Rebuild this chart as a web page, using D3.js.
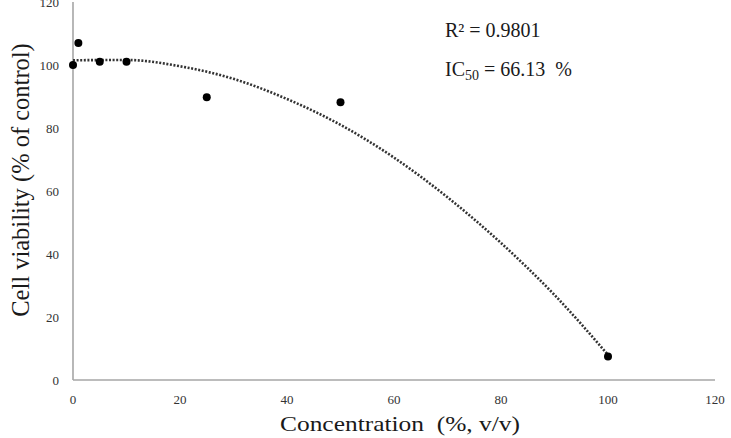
<!DOCTYPE html>
<html>
<head>
<meta charset="utf-8">
<script src="https://cdn.jsdelivr.net/npm/d3@7"></script>
<style>
  body { margin: 0; background: #fff; }
  text { font-family: "Liberation Serif", "Times New Roman", serif; white-space: pre; }
</style>
</head>
<body>
<div id="chart"></div>
<script>
// Measured points
const conc = [0, 1, 5, 10, 25, 50, 100]
const viability = [100, 107, 101, 101, 89.8, 88.2, 7.5]

// Polynomial trendline
const trendX = [0, 10, 20, 30, 40, 50, 60, 70, 80, 90, 100]
const trendY = [101.5, 101.6, 99.6, 95.6, 89.2, 81, 70.6, 58, 43.5, 27, 8]

const xTicks = [0, 20, 40, 60, 80, 100, 120]
const yTicks = [0, 20, 40, 60, 80, 100, 120]

const w = 731, h = 438

const svg = d3.select("#chart").append("svg")
    .attr("width", w)
    .attr("height", h)

const x = d3.scaleLinear().domain([0, 120]).range([73, 715])
const y = d3.scaleLinear().domain([0, 120]).range([380, 2])

const axisCol = "#a6a6a6"

// Axes lines
svg.append("line")
    .attr("x1", x(0)).attr("x2", x(0))
    .attr("y1", y(120)).attr("y2", y(0))
    .style("stroke", axisCol).style("stroke-width", 1.6)
svg.append("line")
    .attr("x1", x(0)).attr("x2", x(120))
    .attr("y1", y(0)).attr("y2", y(0))
    .style("stroke", axisCol).style("stroke-width", 1.6)

// Tick labels
svg.selectAll(".ytick")
    .data(yTicks)
    .enter()
    .append("text")
    .attr("class", "ytick")
    .attr("x", 59)
    .attr("y", d => y(d) + 4.5)
    .attr("text-anchor", "end")
    .style("font-size", "13px")
    .style("fill", "#333")
    .text(d => d)

svg.selectAll(".xtick")
    .data(xTicks)
    .enter()
    .append("text")
    .attr("class", "xtick")
    .attr("x", d => x(d))
    .attr("y", 404)
    .attr("text-anchor", "middle")
    .style("font-size", "13px")
    .style("fill", "#333")
    .text(d => d)

// Trendline
const trend = trendX.map((d, i) => [d, trendY[i]])
svg.append("path")
    .datum(trend)
    .attr("d", d3.line().x(d => x(d[0])).y(d => y(d[1])).curve(d3.curveMonotoneX))
    .style("fill", "none")
    .style("stroke", "#333")
    .style("stroke-width", 2.6)
    .style("stroke-dasharray", "2,1.6")

// Points
svg.selectAll("circle")
    .data(conc)
    .enter()
    .append("circle")
    .attr("cx", d => x(d))
    .attr("cy", (d, i) => y(viability[i]))
    .attr("r", 4)
    .style("fill", "#000")

// Axis titles
svg.append("text")
    .attr("x", 280)
    .attr("y", 431)
    .attr("textLength", 240)
    .attr("lengthAdjust", "spacingAndGlyphs")
    .style("font-size", "22px")
    .style("fill", "#1a1a1a")
    .text("Concentration  (%, v/v)")

svg.append("text")
    .attr("transform", "translate(29,180) rotate(-90)")
    .attr("text-anchor", "middle")
    .style("font-size", "24.5px")
    .style("fill", "#1a1a1a")
    .text("Cell viability (% of control)")

// Annotation
const ann = svg.append("g").style("font-size", "20px").style("fill", "#1a1a1a")
ann.append("text").attr("x", 445).attr("y", 37).text("R² = 0.9801")
const ic = ann.append("text").attr("x", 445).attr("y", 76)
ic.append("tspan").text("IC")
ic.append("tspan").attr("dy", 4).style("font-size", "14px").text("50")
ic.append("tspan").attr("dy", -4).text(" = 66.13  %")
</script>
</body>
</html>
